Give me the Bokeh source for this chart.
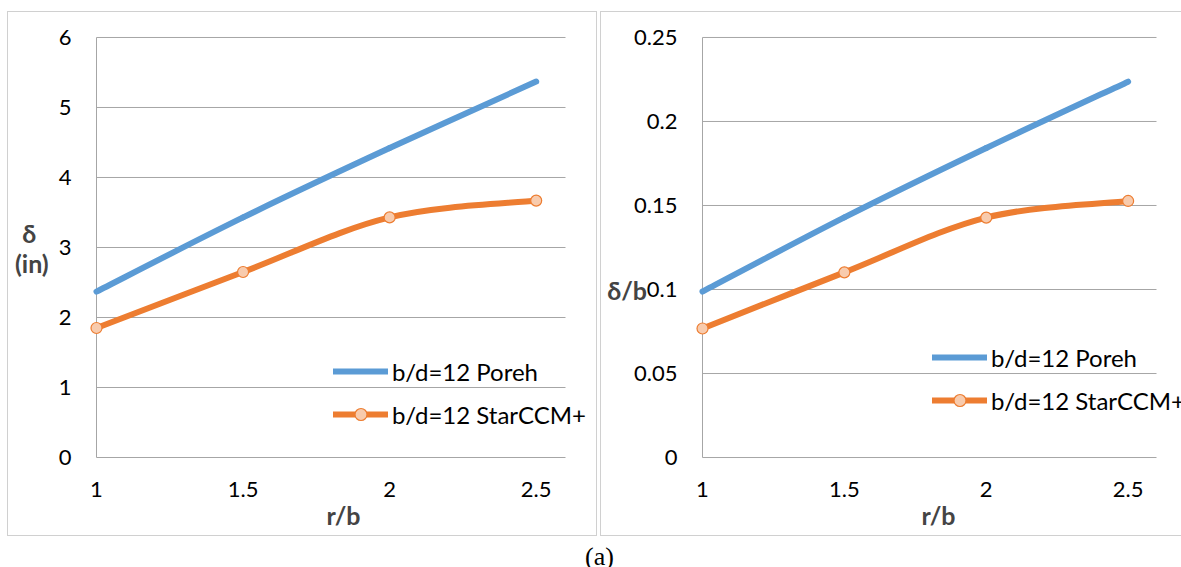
import numpy as np
from bokeh.plotting import figure
from bokeh.models import Legend, LegendItem, Div, FixedTicker
from bokeh.layouts import row, column
from bokeh.embed import file_html
from bokeh.resources import INLINE

# ---------------- data ----------------
r_b = [1.0, 1.5, 2.0, 2.5]
delta_poreh_in = [2.37, 3.43, 4.42, 5.37]
delta_star_in = [1.85, 2.65, 3.43, 3.67]
dob_poreh = [0.0988, 0.1429, 0.1842, 0.2237]
dob_star = [0.0768, 0.1102, 0.1428, 0.1527]
x_ticks = [1, 1.5, 2, 2.5]
x_axis_min, x_axis_max = 1.0, 2.6
left_y_ticks = [0, 1, 2, 3, 4, 5, 6]
right_y_ticks = [0, 0.05, 0.1, 0.15, 0.2, 0.25]
series_labels = ["b/d=12 Poreh", "b/d=12 StarCCM+"]
x_label = "r/b"
left_y_label = "δ\u2002\n(in)"
right_y_label = "\u00a0\n\u00a0\nδ/b"
caption = "(a)"

BLUE = "#5B9BD5"
ORANGE = "#ED7D31"
MARKER_FILL = "#F8CBAD"
GRID = "#A6A6A6"
FONT = "Lato"


def smooth(xs, ys):
    P = np.column_stack([xs, ys]).astype(float)
    n = len(P)
    seg = {k: [] for k in ("x0", "y0", "x1", "y1", "cx0", "cy0", "cx1", "cy1")}
    for i in range(n - 1):
        p0 = P[i - 1] if i > 0 else P[i]
        p1 = P[i]
        p2 = P[i + 1]
        p3 = P[i + 2] if i + 2 < n else P[i + 1]
        c1 = p1 + (p2 - p0) / 6.0
        c2 = p2 - (p3 - p1) / 6.0
        seg["x0"].append(p1[0]); seg["y0"].append(p1[1])
        seg["x1"].append(p2[0]); seg["y1"].append(p2[1])
        seg["cx0"].append(c1[0]); seg["cy0"].append(c1[1])
        seg["cx1"].append(c2[0]); seg["cy1"].append(c2[1])
    return seg


def make_chart(width, xrange, yrange, yticks, poreh, star, borders, margin,
               legend_loc, shadow):
    p = figure(width=width, height=525, x_range=xrange, y_range=yrange,
               output_backend="svg", toolbar_location=None,
               min_border_left=borders[0], min_border_right=borders[1],
               min_border_top=borders[2], min_border_bottom=borders[3],
               margin=margin, styles={"box-shadow": shadow})
    p.outline_line_color = None
    p.border_fill_color = None
    p.background_fill_color = None
    p.xgrid.grid_line_color = None
    p.ygrid.grid_line_color = None
    p.xaxis.ticker = FixedTicker(ticks=x_ticks)
    p.yaxis.ticker = FixedTicker(ticks=yticks)
    for ax in (p.xaxis, p.yaxis):
        ax.axis_line_color = None
        ax.major_tick_line_color = None
        ax.minor_tick_line_color = None
        ax.major_tick_out = 0
        ax.major_tick_in = 0
        ax.minor_tick_out = 0
        ax.major_label_text_font = FONT
        ax.major_label_text_font_size = "22px"
        ax.major_label_text_color = "#000000"
    p.xaxis.major_label_standoff = 21
    p.yaxis.major_label_standoff = 18
    p.xaxis.axis_label = x_label
    p.xaxis.axis_label_text_font = FONT
    p.xaxis.axis_label_text_font_style = "bold"
    p.xaxis.axis_label_text_font_size = "25px"
    p.xaxis.axis_label_standoff = 0
    p.yaxis.axis_label_orientation = "horizontal"
    p.yaxis.axis_label_text_font = FONT
    p.yaxis.axis_label_text_font_style = "bold"
    p.yaxis.axis_label_text_font_size = "25px"

    # Excel-style gridlines and vertical axis line, ending at the axis maximum
    n = len(yticks)
    p.segment(x0=[x_axis_min] * n, y0=yticks, x1=[x_axis_max] * n, y1=yticks,
              line_color=GRID, line_width=1)
    p.segment(x0=[x_axis_min], y0=[yticks[0]], x1=[x_axis_min], y1=[yticks[-1]],
              line_color=GRID, line_width=1)

    sb = smooth(r_b, poreh)
    rb = p.bezier(x0="x0", y0="y0", x1="x1", y1="y1", cx0="cx0", cy0="cy0",
                  cx1="cx1", cy1="cy1", source=sb, line_color=BLUE, line_width=6,
                  line_cap="round")
    so = smooth(r_b, star)
    ro = p.bezier(x0="x0", y0="y0", x1="x1", y1="y1", cx0="cx0", cy0="cy0",
                  cx1="cx1", cy1="cy1", source=so, line_color=ORANGE, line_width=6,
                  line_cap="round")
    rm = p.scatter(r_b, star, marker="circle", size=11, fill_color=MARKER_FILL,
                   line_color=ORANGE, line_width=1.2)

    leg = Legend(items=[LegendItem(label=series_labels[0], renderers=[rb]),
                        LegendItem(label=series_labels[1], renderers=[ro, rm])],
                 location=legend_loc, border_line_color=None,
                 background_fill_alpha=0, padding=0, margin=0, spacing=13,
                 glyph_width=55, glyph_height=30, label_height=30,
                 label_standoff=4, label_text_font=FONT,
                 label_text_font_size="24px", label_text_color="#000000")
    p.add_layout(leg)
    return p


# left chart: frame 89..597 px (axis at 96, 2.6 at 565); 6 at 37 px, 0 at 458 px
lx = 469 / 1.6
ly = 421 / 6
p1 = make_chart(590, (1 - 7 / lx, 1 + 501 / lx), (-3 / ly, 6 + 3 / ly),
                left_y_ticks, delta_poreh_in, delta_star_in,
                (82, 0, 23, 75), (11, 0, 0, 7), (244, 31),
                "inset 0 0 0 1px #D0D0D0")
p1.yaxis.axis_label = left_y_label
p1.yaxis.axis_label_text_line_height = 1.0
p1.yaxis.axis_label_standoff = 7

# right chart: frame 695..1181 px (axis at 702, 2.6 at 1156); 0.25 at 33, 0 at 457
rx = 454 / 1.6
ry = 424 / 0.25
p2 = make_chart(581, (1 - 7 / rx, 1 + 479 / rx), (-3 / ry, 0.25 + 3 / ry),
                right_y_ticks, dob_poreh, dob_star,
                (95, 0, 19, 76), (11, 0, 0, 3), (237, 45),
                "inset 1px 1px 0 0 #D0D0D0, inset 0 -1px 0 0 #D0D0D0")
p2.yaxis.axis_label = right_y_label
p2.yaxis.axis_label_text_line_height = 1.42
p2.yaxis.axis_label_standoff = -16

cap = Div(text=('<div style="width:1181px;box-sizing:border-box;'
                'font-family:\'Liberation Serif\',serif;font-size:26px;'
                'line-height:26px;height:28px;padding-top:3px;overflow:hidden;'
                'text-align:center;padding-left:8px;color:#000">' + caption + '</div>'),
          width=1181, height=31)

layout = column(row(p1, p2, spacing=0), cap, spacing=0)
open("out.html", "w").write(file_html(layout, INLINE))
